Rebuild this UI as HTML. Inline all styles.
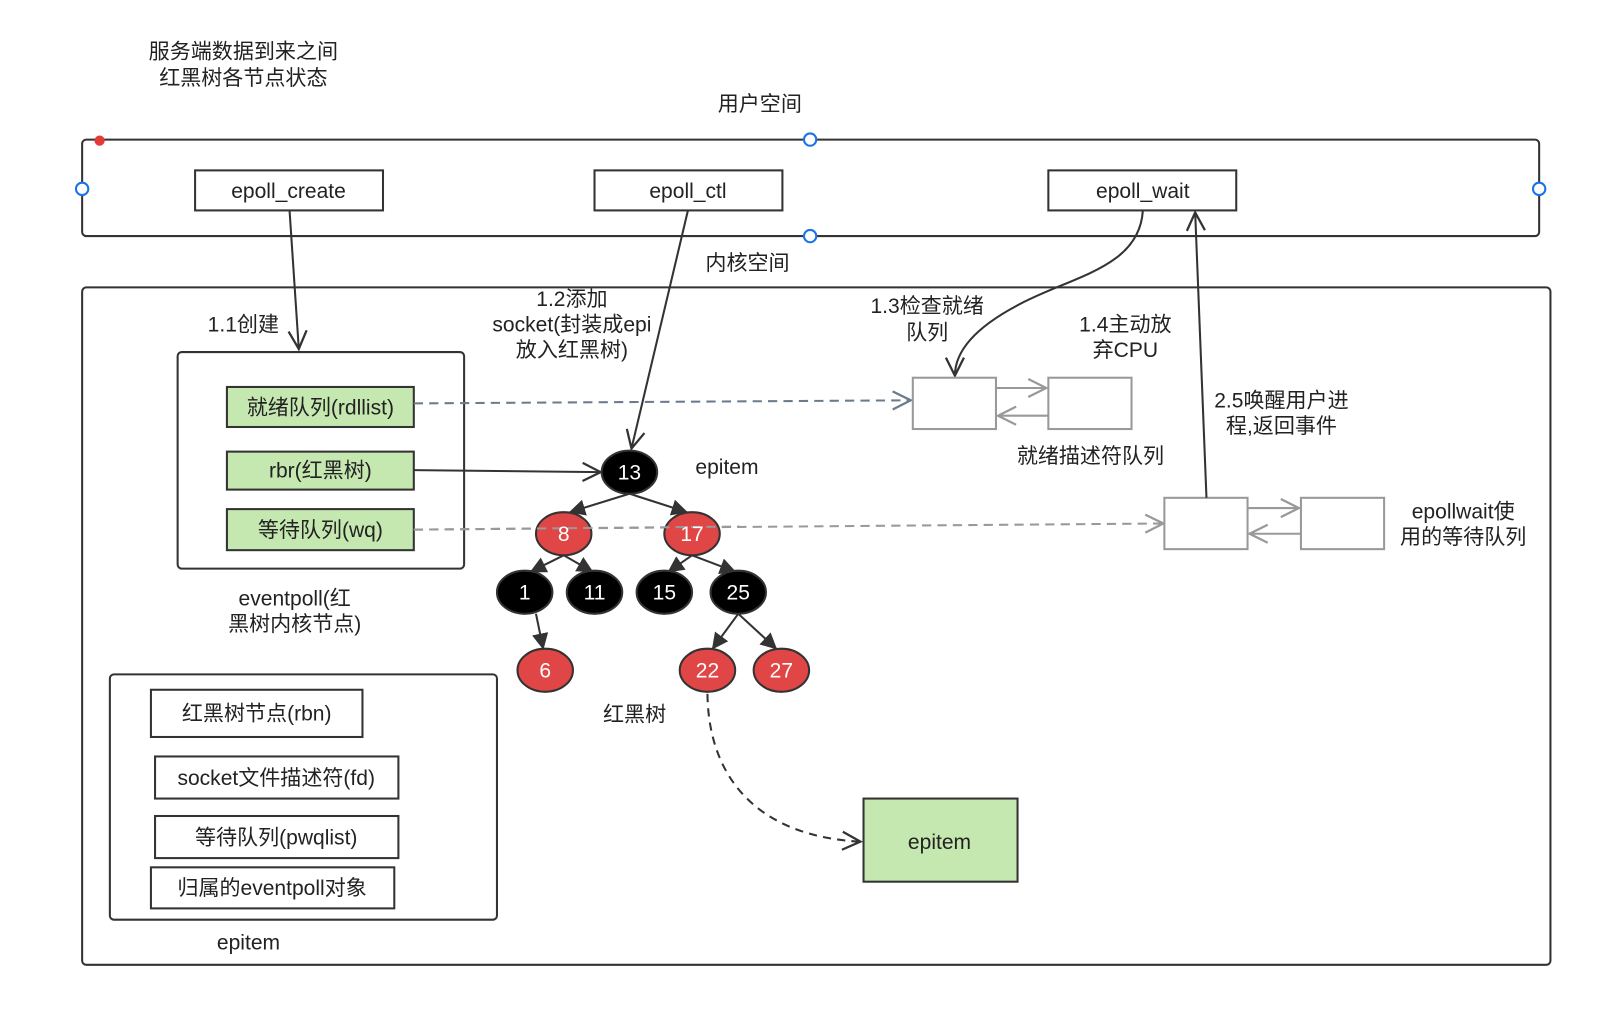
<!DOCTYPE html>
<html><head><meta charset="utf-8"><style>
html,body{margin:0;padding:0;background:#fff;width:1610px;height:1010px;overflow:hidden}
svg{display:block}
text{font-family:"Liberation Sans","Noto Sans CJK SC",sans-serif;font-size:20.5px;fill:#222;text-anchor:middle}
.w{fill:#fff}
</style></head><body>
<svg width="1610" height="1010" viewBox="0 0 1568 984" preserveAspectRatio="none" xmlns="http://www.w3.org/2000/svg">
<defs>
<marker id="open" viewBox="0 0 20 20" refX="18" refY="10" markerWidth="22" markerHeight="22" markerUnits="userSpaceOnUse" orient="auto"><path d="M2,2 L18,10 L2,18" fill="none" stroke="#333" stroke-width="2"/></marker>
<marker id="openg" viewBox="0 0 20 20" refX="18" refY="10" markerWidth="22" markerHeight="22" markerUnits="userSpaceOnUse" orient="auto"><path d="M2,2 L18,10 L2,18" fill="none" stroke="#6b7b8c" stroke-width="2"/></marker>
<marker id="openl" viewBox="0 0 20 20" refX="18" refY="10" markerWidth="22" markerHeight="22" markerUnits="userSpaceOnUse" orient="auto"><path d="M2,2 L18,10 L2,18" fill="none" stroke="#999" stroke-width="2"/></marker>
<marker id="fill" viewBox="0 0 14 14" refX="13" refY="7" markerWidth="16" markerHeight="16" markerUnits="userSpaceOnUse" orient="auto"><path d="M0,0 L14,7 L0,14 Z" fill="#333"/></marker>
</defs>

<text x="237" y="57">服务端数据到来之间</text>
<text x="237" y="83">红黑树各节点状态</text>
<text x="740" y="108">用户空间</text>

<rect x="80" y="136" width="1419" height="94" rx="4" fill="none" stroke="#333" stroke-width="2"/>
<circle cx="97" cy="137" r="5" fill="#e53935"/>
<g fill="#fff" stroke="#1a73e8" stroke-width="2">
<circle cx="789" cy="136" r="6"/><circle cx="789" cy="230" r="6"/><circle cx="80" cy="184" r="6"/><circle cx="1499" cy="184" r="6"/>
</g>
<g fill="#fff" stroke="#333" stroke-width="2">
<rect x="190" y="166" width="183" height="39"/><rect x="579" y="166" width="183" height="39"/><rect x="1021" y="166" width="183" height="39"/>
</g>
<text x="281" y="193">epoll_create</text>
<text x="670" y="193">epoll_ctl</text>
<text x="1113" y="193">epoll_wait</text>

<text x="728" y="263">内核空间</text>
<rect x="80" y="280" width="1430" height="660" rx="4" fill="none" stroke="#333" stroke-width="2"/>

<line x1="282" y1="205" x2="291" y2="340" stroke="#333" stroke-width="2" marker-end="url(#open)"/>
<text x="237" y="323">1.1创建</text>

<rect x="173" y="343" width="279" height="211" rx="4" fill="none" stroke="#333" stroke-width="2"/>
<g fill="#c5e8b0" stroke="#333" stroke-width="2">
<rect x="221" y="377" width="182" height="39"/><rect x="221" y="440" width="182" height="37"/><rect x="221" y="496" width="182" height="40"/>
</g>
<text x="312" y="404">就绪队列(rdllist)</text>
<text x="312" y="465">rbr(红黑树)</text>
<text x="312" y="523">等待队列(wq)</text>
<text x="287" y="590">eventpoll(红</text>
<text x="287" y="615">黑树内核节点)</text>

<line x1="403" y1="393" x2="887" y2="390" stroke="#6b7b8c" stroke-width="2" stroke-dasharray="9,6" marker-end="url(#openg)"/>
<line x1="403" y1="458" x2="585" y2="460" stroke="#333" stroke-width="2" marker-end="url(#open)"/>
<line x1="403" y1="516" x2="1133" y2="510" stroke="#999" stroke-width="2" stroke-dasharray="9,6" marker-end="url(#openl)"/>

<line x1="670" y1="205" x2="615" y2="437" stroke="#333" stroke-width="2" marker-end="url(#open)"/>
<text x="557" y="298">1.2添加</text>
<text x="557" y="323">socket(封装成epi</text>
<text x="557" y="348">放入红黑树)</text>

<g stroke="#333" stroke-width="2" marker-end="url(#fill)">
<line x1="613" y1="481" x2="555" y2="499"/>
<line x1="613" y1="481" x2="669" y2="499"/>
<line x1="549" y1="541" x2="517" y2="557"/>
<line x1="549" y1="541" x2="577" y2="557"/>
<line x1="674" y1="541" x2="651" y2="557"/>
<line x1="674" y1="541" x2="716" y2="557"/>
<line x1="522" y1="598" x2="529" y2="632"/>
<line x1="719" y1="598" x2="694" y2="632"/>
<line x1="719" y1="598" x2="756" y2="632"/>
</g>
<g stroke="#333" stroke-width="2">
<ellipse cx="613" cy="460" rx="27" ry="21" fill="#000"/>
<ellipse cx="549" cy="520" rx="27" ry="21" fill="#e04646"/>
<ellipse cx="674" cy="520" rx="27" ry="21" fill="#e04646"/>
<ellipse cx="511" cy="577" rx="27" ry="21" fill="#000"/>
<ellipse cx="579" cy="577" rx="27" ry="21" fill="#000"/>
<ellipse cx="647" cy="577" rx="27" ry="21" fill="#000"/>
<ellipse cx="719" cy="577" rx="27" ry="21" fill="#000"/>
<ellipse cx="531" cy="653" rx="27" ry="21" fill="#e04646"/>
<ellipse cx="689" cy="653" rx="27" ry="21" fill="#e04646"/>
<ellipse cx="761" cy="653" rx="27" ry="21" fill="#e04646"/>
</g>
<line x1="403" y1="516" x2="720" y2="513" stroke="#999" stroke-width="2" stroke-dasharray="9,6"/>
<g class="w">
<text class="w" x="613" y="467">13</text><text class="w" x="549" y="527">8</text><text class="w" x="674" y="527">17</text>
<text class="w" x="511" y="584">1</text><text class="w" x="579" y="584">11</text><text class="w" x="647" y="584">15</text><text class="w" x="719" y="584">25</text>
<text class="w" x="531" y="660">6</text><text class="w" x="689" y="660">22</text><text class="w" x="761" y="660">27</text>
</g>
<text x="708" y="462">epitem</text>
<text x="618" y="703">红黑树</text>

<path d="M689,676 C690,760 740,815 838,820" fill="none" stroke="#333" stroke-width="2" stroke-dasharray="8,6" marker-end="url(#open)"/>
<rect x="841" y="778" width="150" height="81" fill="#c5e8b0" stroke="#333" stroke-width="2"/>
<text x="915" y="827">epitem</text>

<rect x="107" y="657" width="377" height="239" rx="4" fill="none" stroke="#333" stroke-width="2"/>
<g fill="#fff" stroke="#333" stroke-width="2">
<rect x="147" y="672" width="206" height="46"/><rect x="151" y="737" width="237" height="41"/><rect x="151" y="795" width="237" height="41"/><rect x="147" y="845" width="237" height="40"/>
</g>
<text x="250" y="702">红黑树节点(rbn)</text>
<text x="269" y="765">socket文件描述符(fd)</text>
<text x="269" y="823">等待队列(pwqlist)</text>
<text x="265" y="872">归属的eventpoll对象</text>
<text x="242" y="925">epitem</text>

<path d="M1113,205 C1110,262 1040,270 990,298 C945,322 930,345 930,366" fill="none" stroke="#333" stroke-width="2" marker-end="url(#open)"/>
<text x="903" y="305">1.3检查就绪</text>
<text x="903" y="331">队列</text>
<text x="1096" y="323">1.4主动放</text>
<text x="1096" y="348">弃CPU</text>

<g fill="#fff" stroke="#999" stroke-width="2">
<rect x="889" y="368" width="81" height="50"/><rect x="1021" y="368" width="81" height="50"/>
<rect x="1134" y="485" width="81" height="50"/><rect x="1267" y="485" width="81" height="50"/>
</g>
<g stroke="#999" stroke-width="2">
<line x1="970" y1="378" x2="1019" y2="378" marker-end="url(#openl)"/>
<line x1="1021" y1="405" x2="972" y2="405" marker-end="url(#openl)"/>
<line x1="1215" y1="495" x2="1265" y2="495" marker-end="url(#openl)"/>
<line x1="1267" y1="520" x2="1217" y2="520" marker-end="url(#openl)"/>
</g>
<text x="1062" y="451">就绪描述符队列</text>
<text x="1425" y="505">epollwait使</text>
<text x="1425" y="530">用的等待队列</text>

<line x1="1175" y1="485" x2="1164" y2="207" stroke="#333" stroke-width="2" marker-end="url(#open)"/>
<text x="1248" y="397">2.5唤醒用户进</text>
<text x="1248" y="422">程,返回事件</text>
</svg>
</body></html>
